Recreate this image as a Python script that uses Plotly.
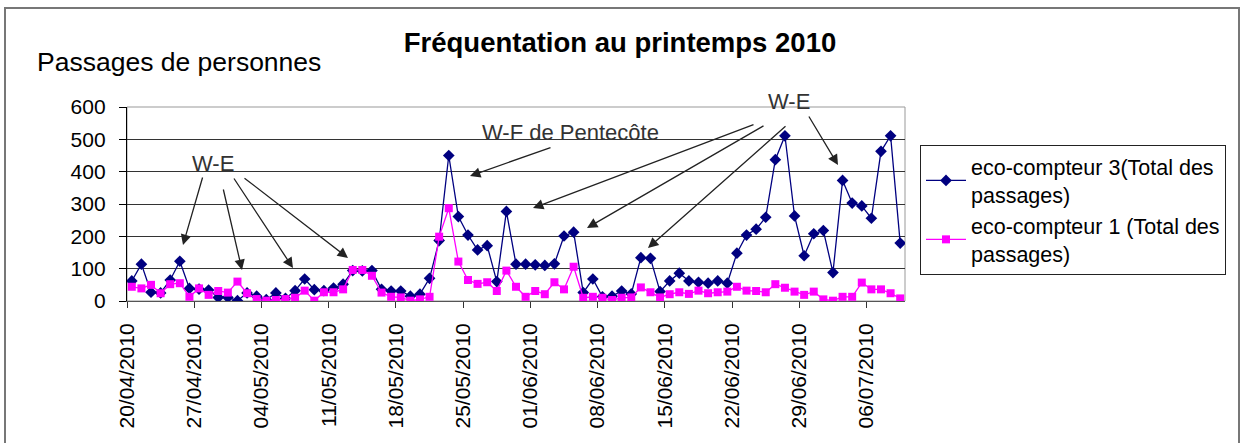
import pandas as pd
import plotly.graph_objects as go

# ---------------- data ----------------
START_DATE = "2010-04-20"
eco3 = [62, 114, 27, 25, 65, 123, 39, 37, 34, 11, 11, 1, 25, 15, 4, 25, 8, 32, 68, 35,
        32, 40, 52, 94, 93, 94, 36, 31, 31, 15, 21, 70, 187, 450, 261, 204, 158, 171, 60, 277,
        114, 114, 112, 110, 115, 201, 213, 26, 68, 13, 15, 31, 22, 134, 132, 29, 62, 86, 62, 58,
        55, 62, 55, 148, 204, 222, 259, 437, 511, 263, 140, 208, 218, 88, 373, 303, 294, 256, 463, 511,
        179]
eco1 = [44, 39, 50, 24, 52, 55, 13, 39, 19, 31, 26, 60, 24, 6, 1, 3, 6, 10, 32, 1,
        27, 27, 36, 96, 96, 78, 26, 13, 11, 1, 5, 13, 199, 287, 122, 65, 53, 58, 31, 94,
        44, 13, 31, 21, 58, 36, 106, 10, 13, 10, 3, 10, 11, 42, 27, 11, 21, 27, 22, 32,
        24, 27, 29, 44, 32, 31, 27, 52, 41, 29, 19, 29, 5, 1, 13, 13, 57, 36, 36, 24,
        8]
TICK_LABELS = ["20/04/2010", "27/04/2010", "04/05/2010", "11/05/2010", "18/05/2010", "25/05/2010",
               "01/06/2010", "08/06/2010", "15/06/2010", "22/06/2010", "29/06/2010", "06/07/2010"]
Y_TICKS = [0, 100, 200, 300, 400, 500, 600]
NAME3 = "eco-compteur 3(Total des<br>passages)"
NAME1 = "eco-compteur 1 (Total des<br>passages)"

# ---------------- figure ----------------
dates = pd.date_range(START_DATE, periods=len(eco3))
xpos = dates + pd.Timedelta(hours=12)  # points centred in each day bin
tickvals = pd.to_datetime(TICK_LABELS, format="%d/%m/%Y")

FONT = "Liberation Sans, Arial, sans-serif"

fig = go.Figure()
fig.add_trace(go.Scatter(
    x=xpos, y=eco3, name=NAME3, mode="lines+markers",
    line=dict(color="#000080", width=1.3),
    marker=dict(symbol="diamond", size=9, color="#000080"),
))
fig.add_trace(go.Scatter(
    x=xpos, y=eco1, name=NAME1, mode="lines+markers",
    line=dict(color="#FF00FF", width=1.3),
    marker=dict(symbol="square", size=8, color="#FF00FF"),
))

L, R, T, B = 127, 335, 107, 142
W, H = 1240, 443
pw, ph = W - L - R, H - T - B


def px(x):
    return (x - L) / pw


def py(y):
    return (H - B - y) / ph


fig.update_layout(
    width=W, height=H,
    margin=dict(l=L, r=R, t=T, b=B),
    paper_bgcolor="white", plot_bgcolor="white",
    font=dict(family=FONT, color="black", size=21),
    title=dict(text="<b>Fréquentation au printemps 2010</b>", x=0.5, xref="container",
               y=1 - 42 / H, yref="container", yanchor="middle", xanchor="center",
               font=dict(size=27.5, family=FONT, color="black")),
    showlegend=True,
    legend=dict(x=px(920), y=py(145), xanchor="left", yanchor="top",
                bordercolor="#222222", borderwidth=1, bgcolor="white",
                font=dict(size=21.5, family=FONT), tracegroupgap=4, itemwidth=40),
    xaxis=dict(
        range=[pd.Timestamp(START_DATE), pd.Timestamp(START_DATE) + pd.Timedelta(days=len(eco3))],
        tickmode="array", tickvals=tickvals, ticktext=TICK_LABELS,
        tickangle=-90, ticks="outside", ticklen=6, tickcolor="#333333",
        showline=True, linecolor="#555555", linewidth=1, showgrid=False,
        tickfont=dict(size=21, family=FONT), ticklabelstandoff=7, zeroline=False,
    ),
    yaxis=dict(
        range=[0, 600], tickmode="array", tickvals=Y_TICKS,
        ticks="outside", ticklen=7, tickcolor="black",
        showline=True, linecolor="black", linewidth=1.3,
        showgrid=True, gridcolor="#333333", gridwidth=1, zeroline=False,
        tickfont=dict(size=21, family=FONT), ticklabelstandoff=9,
    ),
)

# plot-area border (top/right) and outer chart border
fig.add_shape(type="rect", xref="paper", yref="paper", x0=0, x1=1, y0=0, y1=1,
              line=dict(color="#999999", width=1), layer="below")
fig.add_shape(type="rect", xref="paper", yref="paper",
              x0=px(5), x1=px(1239), y0=py(460), y1=py(8),
              line=dict(color="#777777", width=2))

# y-axis title
fig.add_annotation(text="Passages de personnes", xref="paper", yref="paper",
                   x=px(35), y=py(62), xanchor="left", yanchor="middle", showarrow=False,
                   font=dict(size=26.5, family=FONT, color="black"))

# text labels
ANN_COLOR = "#333333"
for txt, xx, yy in [("W-E", 213, 163), ("W-F de Pentecôte", 570, 132), ("W-E", 789, 101)]:
    fig.add_annotation(text=txt, xref="paper", yref="paper", x=px(xx), y=py(yy),
                       xanchor="center", yanchor="middle", showarrow=False,
                       font=dict(size=22, family=FONT, color=ANN_COLOR))

# arrows: (tail_x, tail_y, head_x, head_y) in pixel positions
ARROWS = [(203, 176, 183, 245), (223, 188, 242, 270), (233, 177, 293, 268), (243, 177, 348, 258),
          (552, 147, 470, 176),
          (755, 124, 533, 208), (765, 125, 587, 228), (787, 125, 648, 248), (808, 115, 838, 165)]
for tx, ty, hx, hy in ARROWS:
    fig.add_annotation(x=px(hx), y=py(hy), xref="paper", yref="paper",
                       ax=tx - hx, ay=ty - hy, axref="pixel", ayref="pixel",
                       showarrow=True, arrowhead=2, arrowsize=1.6, arrowwidth=1.3,
                       arrowcolor="#222222", text="")

fig.write_html("out.html", config={"displayModeBar": False},
               post_script="document.body.style.margin='0';")
